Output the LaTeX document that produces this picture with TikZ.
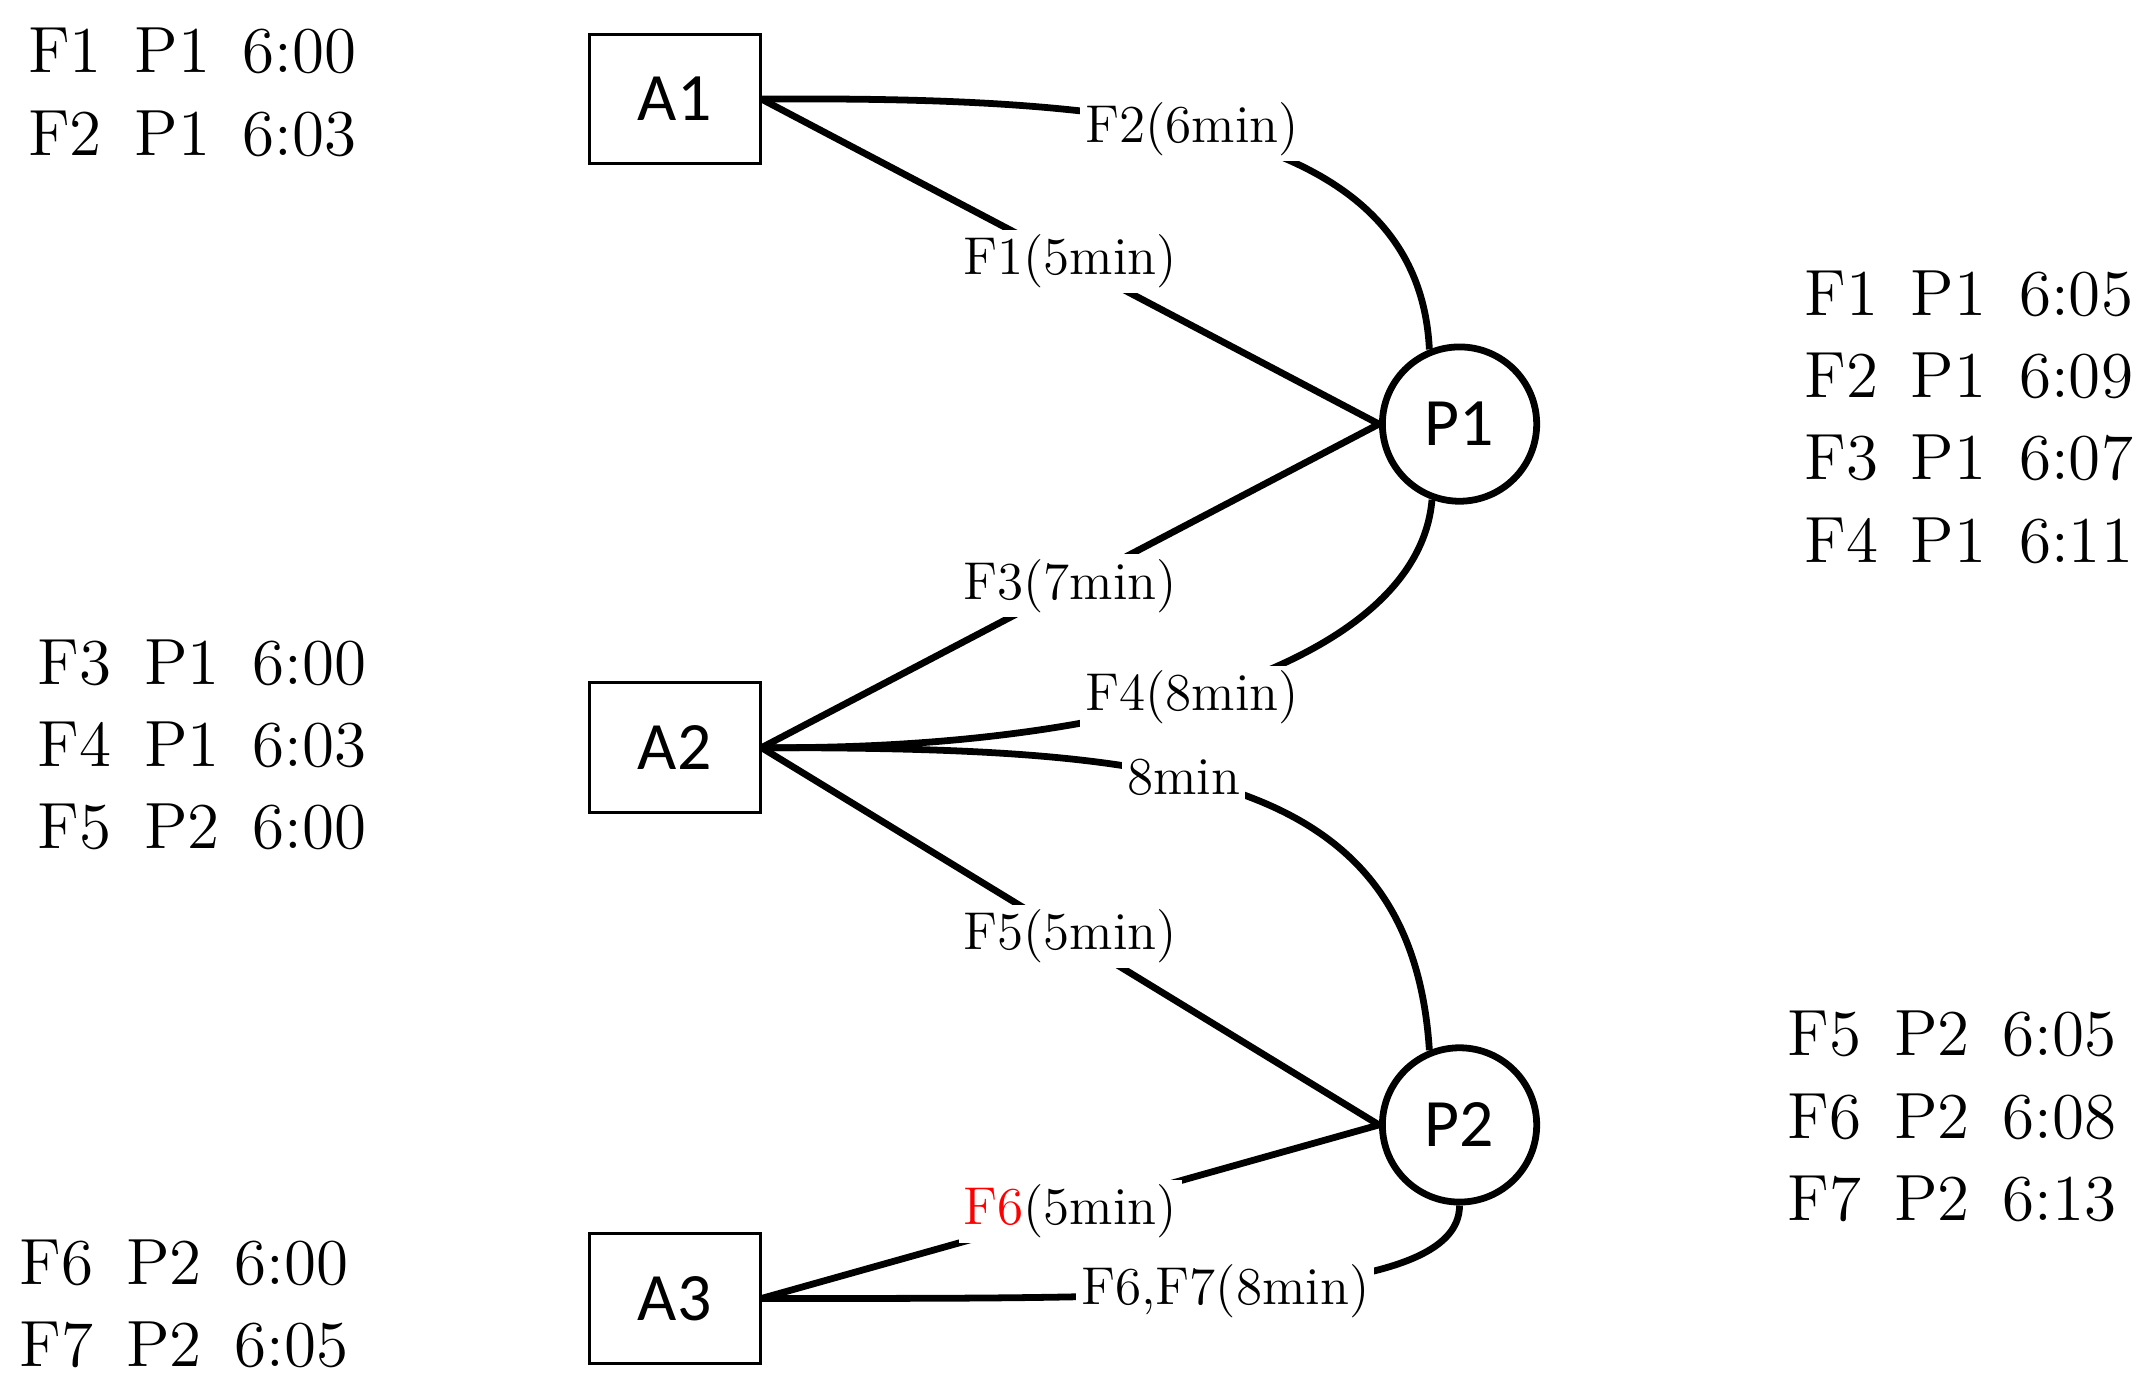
\documentclass[tikz,border=0pt]{standalone}
\usepackage{fontspec}
\newfontfamily\nodefont{Carlito}
\begin{document}
\begin{tikzpicture}[x=0.01cm, y=-0.01cm, thick, line width=1.4pt]
\tikzset{
  stop/.style={draw, line width=0.6pt, minimum width=1.24cm, minimum height=0.94cm, font=\nodefont\fontsize{14}{16}\selectfont},
  hub/.style={draw, circle, minimum size=1.12cm, inner sep=0pt, font=\nodefont\fontsize{14}{16}\selectfont},
  lbl/.style={fill=white, inner sep=1pt, font=\fontsize{11}{12}\selectfont},
  tbl/.style={align=left, anchor=north west, inner sep=0pt, font=\fontsize{13.5}{17}\selectfont}
}
\useasboundingbox (0,0) rectangle (1560,1004);

% ============================
% Nodes
% ============================
\node[stop] (A1) at (490,72)  {A1};
\node[stop] (A2) at (490,543) {A2};
\node[stop] (A3) at (490,943) {A3};
\node[hub]  (P1) at (1060,308) {P1};
\node[hub]  (P2) at (1060,817) {P2};

% ============================
% Timetables
% ============================
\node[tbl] (tA1) at (18,18)   {F1\enspace P1\enspace 6:00\\F2\enspace P1\enspace 6:03};
\node[tbl] (tA2) at (25,462)  {F3\enspace P1\enspace 6:00\\F4\enspace P1\enspace 6:03\\F5\enspace P2\enspace 6:00};
\node[tbl] (tA3) at (12,898)  {F6\enspace P2\enspace 6:00\\F7\enspace P2\enspace 6:05};
\node[tbl] (tP1) at (1308,194) {F1\enspace P1\enspace 6:05\\F2\enspace P1\enspace 6:09\\F3\enspace P1\enspace 6:07\\F4\enspace P1\enspace 6:11};
\node[tbl] (tP2) at (1296,732) {F5\enspace P2\enspace 6:05\\F6\enspace P2\enspace 6:08\\F7\enspace P2\enspace 6:13};

% ============================
% Links
% ============================
\draw (A1.east) -- node[lbl] {F1(5min)} (P1.west);
\draw (A1.east) .. controls (820,70) and (1030,90) .. node[lbl, pos=0.45] {F2(6min)} (P1.112);
\draw (A2.east) -- node[lbl] {F3(7min)} (P1.west);
\draw (A2.east) .. controls (820,545) and (1030,480) .. node[lbl, pos=0.45] {F4(8min)} (P1.250);
\draw (A2.east) .. controls (850,543) and (1025,560) .. node[lbl, pos=0.42] {8min} (P2.112);
\draw (A2.east) -- node[lbl] {F5(5min)} (P2.west);
\draw (A3.east) -- node[lbl] {\textcolor{red}{F6}(5min)} (P2.west);
\draw (A3.east) .. controls (850,943) and (1060,945) .. node[lbl, pos=0.45] {F6,F7(8min)} (P2.south);

\end{tikzpicture}
\end{document}
